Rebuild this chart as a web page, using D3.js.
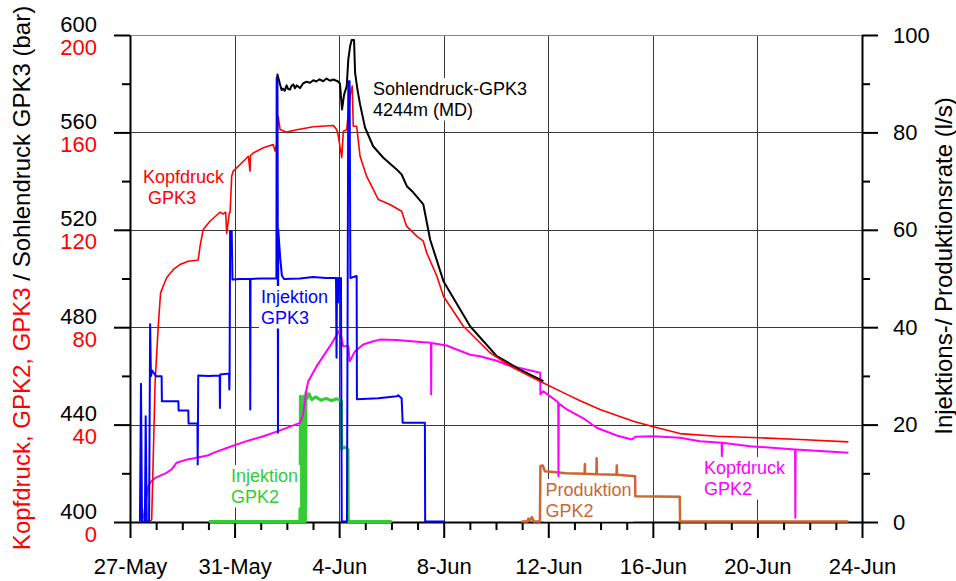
<!DOCTYPE html>
<html>
<head>
<meta charset="utf-8">
<script src="https://cdn.jsdelivr.net/npm/d3@7"></script>
<style>
body { margin: 0; background: #fff; }
svg { font-family: "Liberation Sans", Arial, sans-serif; }
</style>
</head>
<body>
<svg width="956" height="581"></svg>
<script>
var startMs = Date.UTC(2005, 4, 27);
var majorTickDays = [0, 4, 8, 12, 16, 20, 24, 28];
var dateLabels = ["27-May", "31-May", "4-Jun", "8-Jun", "12-Jun", "16-Jun", "20-Jun", "24-Jun"];
var sohleTicks = [400, 440, 480, 520, 560, 600];
var kopfTicks = [0, 40, 80, 120, 160, 200];
var rateTicks = [0, 20, 40, 60, 80, 100];

// [day since 27-May, value]
var sohlendruckGPK3 = [[5.62,578.2],[5.64,583.6],[5.74,579.5],[5.80,577.2],[5.85,577.8],[5.92,576.9],[5.99,579.1],[6.05,577.6],[6.12,577.4],[6.18,578.9],[6.25,579.5],[6.31,577.9],[6.38,579.1],[6.50,578.0],[6.62,579.9],[6.75,580.6],[6.89,580.2],[7.01,581.2],[7.12,580.7],[7.25,581.6],[7.39,580.8],[7.52,581.9],[7.65,581.0],[7.78,581.5],[7.96,580.7],[8.03,579.9],[8.11,569.2],[8.19,575.3],[8.29,578.8],[8.35,589.7],[8.42,595.2],[8.48,597.7],[8.57,597.7],[8.61,584.3],[8.70,577.4],[8.80,571.3],[8.99,561.8],[9.30,554.1],[9.69,549.4],[10.20,544.6],[10.39,542.5],[10.59,537.7],[10.84,535.1],[11.22,530.2],[11.48,515.8],[11.99,498.7],[13.01,480.2],[14.03,467.9],[14.92,462.4],[15.81,457.6]];

var kopfdruckGPK3 = [[0.77,0],[0.83,0.8],[0.96,57.1],[1.08,80.2],[1.17,93.9],[1.27,96.6],[1.40,100.1],[1.66,103.5],[1.91,105.5],[2.23,106.9],[2.55,107.3],[2.61,107.5],[2.68,113.1],[2.80,119.9],[3.06,123.3],[3.44,127.0],[3.57,126.3],[3.66,127.0],[3.70,118.3],[3.80,126.8],[3.83,127.0],[3.89,141.8],[3.95,143.9],[4.21,146.6],[4.53,150.0],[4.59,143.9],[4.61,150.3],[4.72,151.4],[5.10,153.5],[5.48,154.8],[5.55,152.1],[5.61,154.8],[5.67,166.4],[5.74,161.0],[5.99,159.9],[6.38,160.9],[7.01,162.1],[7.78,162.6],[7.91,160.9],[7.97,158.2],[8.10,149.4],[8.16,160.3],[8.29,160.9],[8.35,167.8],[8.44,176.1],[8.50,178.8],[8.54,162.3],[8.67,162.3],[8.80,150.0],[9.05,141.8],[9.50,132.2],[9.94,130.2],[10.39,127.4],[10.58,121.3],[10.97,117.2],[11.22,115.1],[11.35,110.3],[11.74,100.7],[11.99,92.5],[12.75,80.2],[13.77,69.3],[14.66,63.1],[15.68,57.6],[16.71,52.2],[17.22,49.6],[17.98,46.0],[19.25,41.2],[20.02,38.9],[21.04,36.1],[22.44,35.0],[24.04,34.4],[25.63,33.7],[27.48,32.7]];

var kopfdruckGPK2 = [[0.51,0.8],[0.60,8.0],[0.70,14.5],[0.77,15.9],[0.96,17.9],[1.40,20.0],[1.59,21.4],[1.78,24.1],[2.20,25.5],[2.55,26.2],[3.00,27.2],[3.19,28.2],[3.83,30.7],[4.46,33.0],[5.10,35.0],[5.67,37.1],[6.50,40.5],[6.62,43.9],[6.75,54.2],[6.82,57.6],[7.14,63.8],[7.65,72.0],[8.03,78.8],[8.15,72.0],[8.35,72.0],[8.40,65.8],[8.61,69.9],[8.92,72.7],[9.31,74.0],[9.56,74.7],[10.20,74.5],[11.22,73.6],[11.51,73.4],[11.52,52.2],[11.53,73.3],[12.11,72.3],[13.01,68.5],[13.39,67.9],[14.03,66.0],[14.41,64.3],[15.69,61.1],[15.70,52.2],[15.81,53.5],[16.06,51.5],[16.38,49.0],[16.39,18.6],[16.40,48.5],[16.71,46.0],[17.41,41.9],[17.85,38.5],[18.62,35.3],[19.20,33.7],[19.33,34.8],[20.02,35.0],[21.04,34.4],[21.80,33.0],[22.63,32.3],[22.64,26.8],[22.65,32.3],[23.72,30.9],[25.44,29.6],[25.45,1.5],[25.46,29.6],[27.48,28.2]];

var injektionGPK3 = [[0.38,0],[0.42,28.3],[0.46,0],[0.57,0],[0.60,21.6],[0.64,0],[0.73,0],[0.77,40.5],[0.80,29.8],[0.85,31.0],[1.00,29.8],[1.21,29.8],[1.22,24.7],[1.85,24.7],[1.86,22.8],[2.23,22.8],[2.24,20.1],[2.58,20.1],[2.59,11.7],[2.60,20.0],[2.61,30.0],[3.00,29.9],[3.43,30.0],[3.44,23.3],[3.45,30.2],[3.79,30.4],[3.80,27.1],[3.81,30.4],[3.83,59.6],[3.89,59.6],[3.92,49.7],[4.20,49.8],[4.59,49.8],[4.60,23.0],[4.61,49.8],[5.00,49.9],[5.60,49.9],[5.61,91.1],[5.64,90.0],[5.65,69.5],[5.66,18.2],[5.67,60.0],[5.74,54.5],[5.81,50.5],[5.89,49.8],[6.50,49.9],[7.00,50.2],[7.50,50.0],[7.88,50.0],[7.90,33.6],[7.92,50.0],[7.96,45.0],[7.99,50.0],[8.03,47.0],[8.07,50.0],[8.10,0],[8.30,0],[8.35,90.4],[8.40,90.4],[8.43,50.0],[8.67,50.4],[8.68,25.1],[9.50,25.3],[10.20,25.7],[10.26,25.9],[10.39,25.3],[10.43,20.3],[11.28,20.3],[11.29,0],[12.05,0]];

var injektionGPK2 = [[3.02,0],[6.50,0],[6.52,25.7],[6.56,0],[6.62,0],[6.64,25.7],[6.67,0],[6.71,0],[6.73,26.5],[6.76,25.1],[6.85,26.2],[6.95,25.0],[7.10,25.6],[7.30,24.9],[7.50,25.3],[7.70,24.8],[7.90,25.2],[8.09,24.7],[8.10,14.9],[8.20,15.3],[8.34,14.8],[8.35,0],[10.01,0]];

var produktionGPK2 = [[14.98,0],[15.20,0],[15.24,0.6],[15.30,0.2],[15.37,0.9],[15.45,0],[15.68,0],[15.70,11.4],[15.79,11.5],[15.87,10.3],[16.30,10.1],[16.70,9.9],[17.39,9.8],[17.40,11.8],[17.41,9.8],[17.84,9.7],[17.85,13.0],[17.86,9.7],[18.61,9.6],[18.62,11.5],[18.63,9.6],[19.32,9.3],[19.33,5.2],[21.03,5.1],[21.04,0],[27.48,0]];

function toDate(d) { return new Date(startMs + d * 864e5); }

var svg = d3.select("svg");
var plotLeft = 130, plotRight = 862, plotTop = 35, plotBottom = 522;

var x = d3.scaleUtc().domain([toDate(0), toDate(28)]).range([plotLeft, plotRight]);
var yKopf = d3.scaleLinear().domain([0, 200]).range([plotBottom, plotTop]);
var ySohle = d3.scaleLinear().domain([400, 600]).range([plotBottom, plotTop]);
var yRate = d3.scaleLinear().domain([0, 100]).range([plotBottom, plotTop]);

// grid
var grid = svg.append("g").attr("stroke", "#3a3a3a").attr("stroke-width", 1);
grid.selectAll(".h").data(rateTicks.slice(1, -1)).enter().append("line")
    .attr("x1", plotLeft).attr("x2", plotRight)
    .attr("y1", function(d) { return Math.round(yRate(d)) + 0.5; })
    .attr("y2", function(d) { return Math.round(yRate(d)) + 0.5; });
grid.selectAll(".v").data(majorTickDays.slice(1, -1)).enter().append("line")
    .attr("y1", plotTop).attr("y2", plotBottom)
    .attr("x1", function(d) { return Math.round(x(toDate(d))) + 0.5; })
    .attr("x2", function(d) { return Math.round(x(toDate(d))) + 0.5; });
svg.append("line").attr("x1", plotLeft).attr("x2", plotRight).attr("y1", plotTop + 0.5).attr("y2", plotTop + 0.5)
    .attr("stroke", "#888").attr("stroke-width", 1);

// axes
function styleAxis(g) {
    g.selectAll("path, line").attr("stroke", "#000").attr("stroke-width", 2);
    g.attr("font-family", null).attr("font-size", 22);
    g.selectAll("text").attr("fill", "#000");
}
svg.append("g").attr("transform", "translate(" + plotLeft + ",0)")
    .call(d3.axisLeft(ySohle).tickValues(sohleTicks).tickSize(16).tickSizeOuter(0).tickFormat(""))
    .call(styleAxis);
svg.append("g").attr("transform", "translate(" + plotLeft + ",0)")
    .call(d3.axisLeft(ySohle).tickValues(d3.range(420, 600, 40)).tickSize(8).tickSizeOuter(0).tickFormat(""))
    .call(styleAxis).select(".domain").remove();
svg.append("g").attr("transform", "translate(" + plotRight + ",0)")
    .call(d3.axisRight(yRate).tickValues(rateTicks).tickSize(16).tickSizeOuter(0).tickFormat(""))
    .call(styleAxis);
svg.append("g").attr("transform", "translate(" + plotRight + ",0)")
    .call(d3.axisRight(yRate).tickValues(d3.range(10, 100, 20)).tickSize(8).tickSizeOuter(0).tickFormat(""))
    .call(styleAxis).select(".domain").remove();
svg.append("g").attr("transform", "translate(0," + plotBottom + ")")
    .call(d3.axisBottom(x).tickValues(majorTickDays.map(toDate)).tickSize(16).tickSizeOuter(0).tickPadding(20)
        .tickFormat(function(d, i) { return dateLabels[i]; }))
    .call(styleAxis);
svg.append("g").attr("transform", "translate(0," + plotBottom + ")")
    .call(d3.axisBottom(x).tickValues(d3.range(0, 29).filter(function(d) { return d % 4; }).map(toDate))
        .tickSize(8).tickSizeOuter(0).tickFormat(""))
    .call(styleAxis).select(".domain").remove();

// series (drawn over the axes so the zero levels stay visible)
function drawLine(data, yScale, color, width) {
    var line = d3.line()
        .x(function(d) { return x(toDate(d[0])); })
        .y(function(d) { return yScale(d[1]) - 0.5; });
    svg.append("path").datum(data)
        .attr("fill", "none").attr("stroke", color).attr("stroke-width", width)
        .attr("stroke-linejoin", "round")
        .attr("d", line);
}
drawLine(produktionGPK2, yRate, "#cc6633", 2.5);
drawLine(injektionGPK2, yRate, "#33cc33", 3);
drawLine(kopfdruckGPK2, yKopf, "#ff00ff", 2);
drawLine(sohlendruckGPK3, ySohle, "#000000", 2);
drawLine(kopfdruckGPK3, yKopf, "#ff0000", 1.6);
drawLine(injektionGPK3, yRate, "#0000ff", 2);

// left tick labels (two scales)
svg.append("g").selectAll("text").data(sohleTicks).enter().append("text")
    .attr("x", 97).attr("y", function(d) { return ySohle(d) - 3.5; })
    .attr("text-anchor", "end").attr("font-size", 22).attr("fill", "#000")
    .text(function(d) { return d; });
svg.append("g").selectAll("text").data(kopfTicks).enter().append("text")
    .attr("x", 97).attr("y", function(d) { return yKopf(d) + 19.5; })
    .attr("text-anchor", "end").attr("font-size", 22).attr("fill", "#ff0000")
    .text(function(d) { return d; });
svg.append("g").selectAll("text").data(rateTicks).enter().append("text")
    .attr("x", 893).attr("y", function(d) { return yRate(d) + 7.5; })
    .attr("font-size", 22).attr("fill", "#000")
    .text(function(d) { return d; });

// axis titles
var lt = svg.append("text").attr("transform", "translate(30,278) rotate(-90)")
    .attr("text-anchor", "middle").attr("font-size", 24);
lt.append("tspan").attr("fill", "#ff0000").text("Kopfdruck, GPK2, GPK3");
lt.append("tspan").attr("fill", "#000").text(" / Sohlendruck GPK3 (bar)");
svg.append("text").attr("transform", "translate(952,266) rotate(-90)")
    .attr("text-anchor", "middle").attr("font-size", 24).attr("fill", "#000")
    .text("Injektions-/ Produktionsrate (l/s)");

// annotations
var notes = [
    { lines: ["Sohlendruck-GPK3", "4244m (MD)"], color: "#000", x: [373, 373], y: 95 },
    { lines: ["Kopfdruck", "GPK3"], color: "#ff0000", x: [143, 148], y: 183 },
    { lines: ["Injektion", "GPK3"], color: "#0000ff", x: [261, 261], y: 303 },
    { lines: ["Injektion", "GPK2"], color: "#33cc33", x: [231, 231], y: 482 },
    { lines: ["Produktion", "GPK2"], color: "#cc6633", x: [545.5, 545.5], y: 496 },
    { lines: ["Kopfdruck", "GPK2"], color: "#ff00ff", x: [704, 704], y: 474 }
];
notes.forEach(function(n) {
    var g = svg.append("g");
    var rect = g.append("rect").attr("fill", "#fff");
    var t = g.append("text").attr("font-size", 18).attr("fill", n.color);
    n.lines.forEach(function(s, i) {
        t.append("tspan").attr("x", n.x[i]).attr("y", n.y + i * 20.5).text(s);
    });
    var bb = t.node().getBBox();
    rect.attr("x", bb.x - 2).attr("y", bb.y - 1).attr("width", bb.width + 4).attr("height", bb.height + 2);
});
</script>
</body>
</html>
